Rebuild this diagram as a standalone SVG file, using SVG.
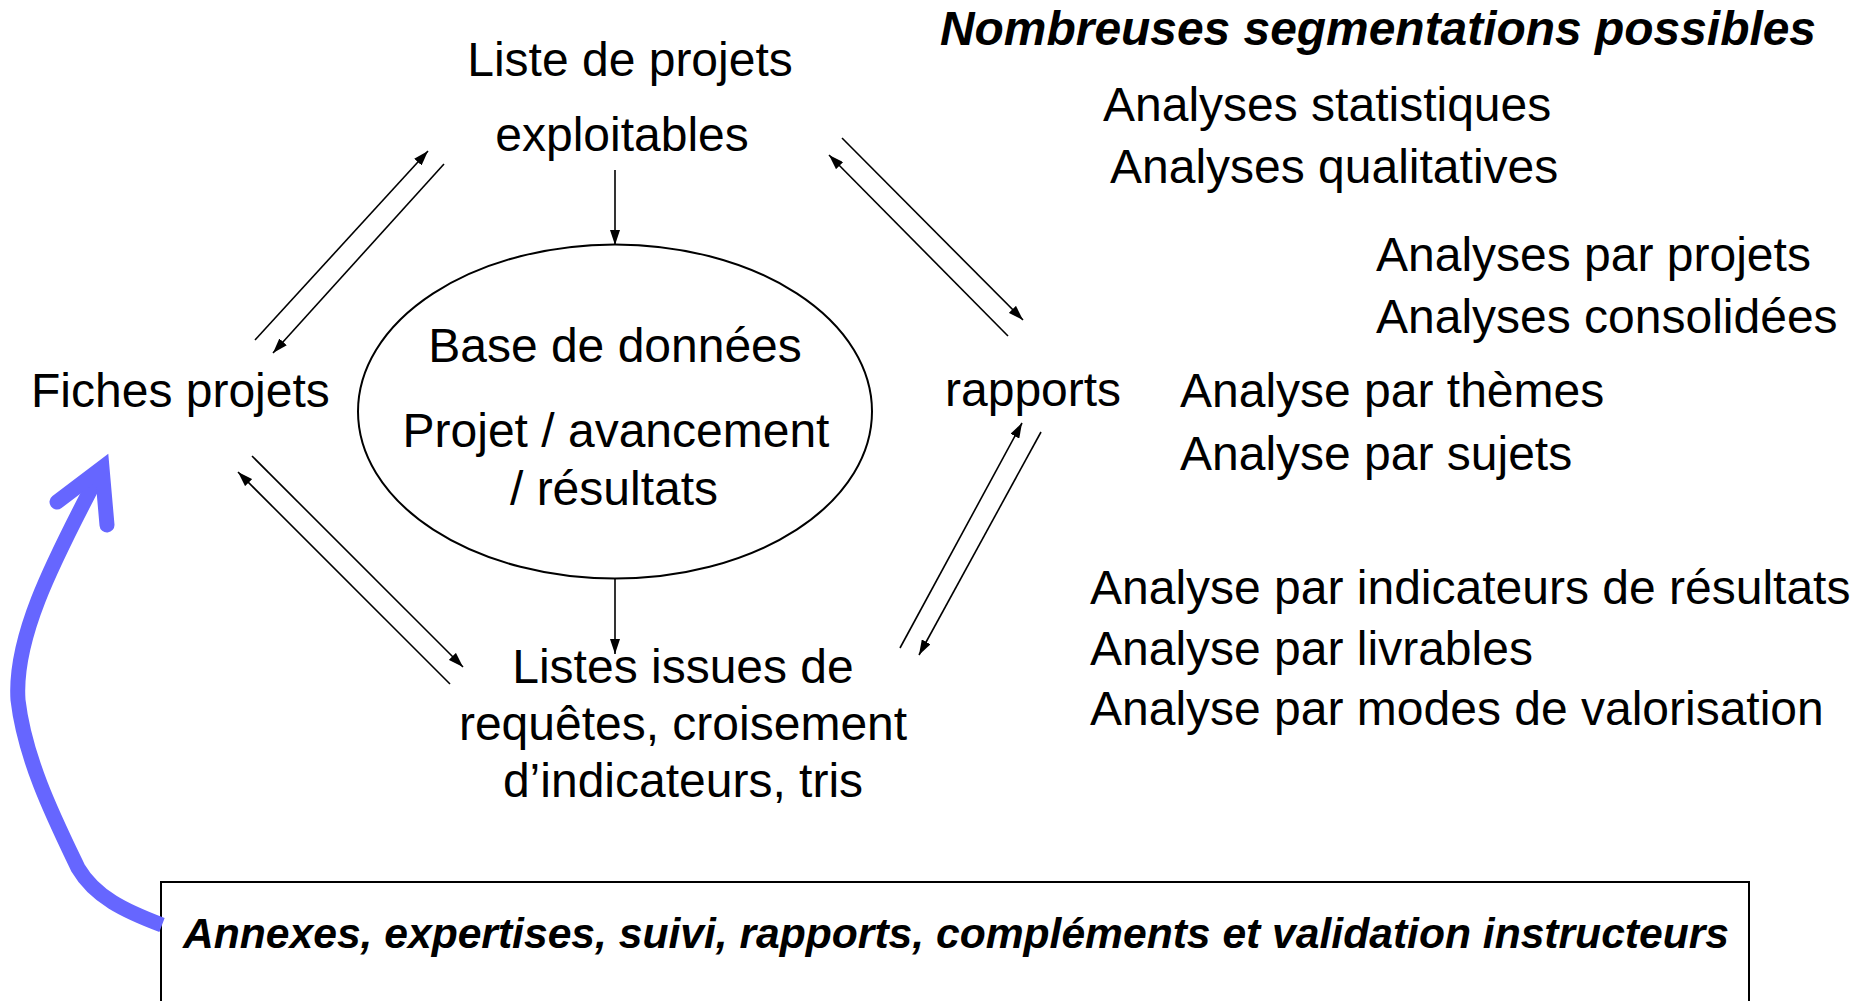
<svg xmlns="http://www.w3.org/2000/svg" width="1865" height="1001" viewBox="0 0 1865 1001">
<style>
text{font-family:"Liberation Sans",Arial,sans-serif;font-size:48px;fill:#000}
.c{text-anchor:middle}
.bi{font-weight:bold;font-style:italic}
.ln{stroke:#000;stroke-width:1.6;fill:none;marker-end:url(#ah)}
</style>
<defs>
<marker id="ah" viewBox="0 0 15 10" refX="15" refY="5" markerWidth="15" markerHeight="10" markerUnits="userSpaceOnUse" orient="auto">
<path d="M0,0 L15,5 L0,10 z" fill="#000"/>
</marker>
</defs>
<rect width="1865" height="1001" fill="#fff"/>
<g id="liste">
<text class="c" x="630" y="76">Liste de projets</text>
<text class="c" x="622" y="151">exploitables</text>
</g>
<g id="base">
<ellipse cx="615" cy="411.5" rx="257" ry="167" fill="none" stroke="#000" stroke-width="2"/>
<text class="c" x="615" y="362">Base de données</text>
<text class="c" x="616" y="447">Projet / avancement</text>
<text class="c" x="614" y="505">/ résultats</text>
</g>
<g id="fiches"><text x="31" y="407">Fiches projets</text></g>
<g id="rapports"><text x="945" y="406">rapports</text></g>
<g id="listes">
<text class="c" x="683" y="683">Listes issues de</text>
<text class="c" x="683" y="740">requêtes, croisement</text>
<text class="c" x="683" y="797">d’indicateurs, tris</text>
</g>
<g id="segmentations">
<text class="bi" x="940" y="45" textLength="876" lengthAdjust="spacingAndGlyphs">Nombreuses segmentations possibles</text>
<text x="1103" y="121">Analyses statistiques</text>
<text x="1110" y="183">Analyses qualitatives</text>
<text x="1376" y="271">Analyses par projets</text>
<text x="1376" y="333">Analyses consolidées</text>
<text x="1180" y="407">Analyse par thèmes</text>
<text x="1180" y="470">Analyse par sujets</text>
<text x="1090" y="604">Analyse par indicateurs de résultats</text>
<text x="1090" y="665">Analyse par livrables</text>
<text x="1090" y="725">Analyse par modes de valorisation</text>
</g>
<g id="annexes">
<rect x="161" y="882" width="1588" height="140" fill="none" stroke="#000" stroke-width="2"/>
<text class="bi" x="183" y="948" style="font-size:43px" textLength="1546" lengthAdjust="spacingAndGlyphs">Annexes, expertises, suivi, rapports, compléments et validation instructeurs</text>
</g>
<g id="connectors">
<line class="ln" x1="255" y1="340" x2="428" y2="151"/>
<line class="ln" x1="444" y1="164" x2="273" y2="353"/>
<line class="ln" x1="1008" y1="336" x2="829" y2="155"/>
<line class="ln" x1="842" y1="138" x2="1023" y2="320"/>
<line class="ln" x1="615" y1="170" x2="615" y2="245"/>
<line class="ln" x1="615" y1="578" x2="615" y2="654"/>
<line class="ln" x1="252" y1="456" x2="463" y2="667"/>
<line class="ln" x1="450" y1="684" x2="238" y2="472"/>
<line class="ln" x1="900" y1="648" x2="1022" y2="423"/>
<line class="ln" x1="1041" y1="432" x2="919" y2="655"/>
<g fill="none" stroke="#6666ff" stroke-width="15">
<path d="M162,925 C125,911 95,897 78,868 C55,820 25,760 18,700 C14,640 48,570 102,468"/>
<polyline points="57,502 102,468 107,525" stroke-linecap="round" stroke-linejoin="miter" stroke-miterlimit="10"/>
</g>
</g>
</svg>
